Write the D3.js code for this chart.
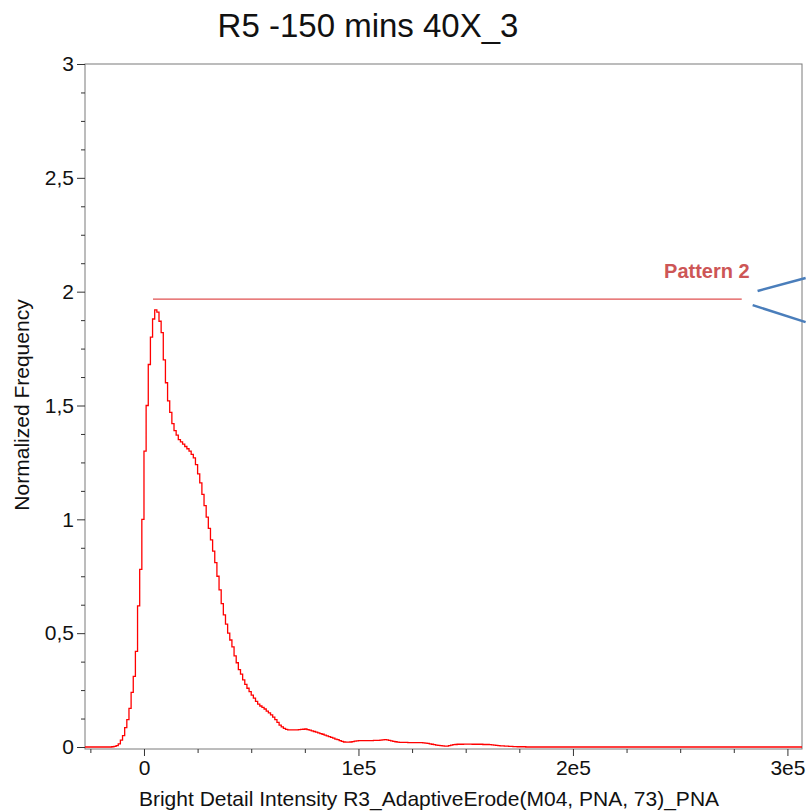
<!DOCTYPE html>
<html>
<head>
<meta charset="utf-8">
<script src="https://cdn.jsdelivr.net/npm/d3@7"></script>
<style>
  body { margin: 0; background: #fff; }
  text { font-family: "Liberation Sans", Arial, sans-serif; }
</style>
</head>
<body>
<svg id="chart" width="806" height="811"></svg>
<script>
// histogram bins (bin start = binStart + i * binWidth)
const binStart = -20000;
const binWidth = 1000;
const freq = [
  0, 0, 0, 0, 0, 0.001, 0.003, 0.006, 0.014, 0.03,
  0.05, 0.085, 0.12, 0.17, 0.24, 0.31, 0.42, 0.62, 0.78, 1.0,
  1.30, 1.50, 1.68, 1.80, 1.88, 1.92, 1.91, 1.87, 1.82, 1.70,
  1.60, 1.52, 1.47, 1.42, 1.39, 1.37, 1.35, 1.34, 1.33, 1.32,
  1.31, 1.30, 1.285, 1.27, 1.24, 1.20, 1.16, 1.11, 1.06, 1.01,
  0.96, 0.91, 0.86, 0.81, 0.75, 0.69, 0.63, 0.58, 0.54, 0.50,
  0.47, 0.44, 0.40, 0.37, 0.34, 0.32, 0.295, 0.275, 0.258, 0.243,
  0.228, 0.215, 0.200, 0.188, 0.180, 0.174, 0.167, 0.158, 0.150, 0.141,
  0.131, 0.120, 0.108, 0.096, 0.088, 0.082, 0.077, 0.075, 0.075, 0.075,
  0.075, 0.075, 0.076, 0.077, 0.078, 0.079, 0.076, 0.074, 0.071, 0.068,
  0.065, 0.062, 0.059, 0.056, 0.052, 0.049, 0.046, 0.042, 0.039, 0.035,
  0.032, 0.028, 0.025, 0.022, 0.021, 0.021, 0.022, 0.024, 0.026, 0.027,
  0.028, 0.028, 0.028, 0.028, 0.028, 0.028, 0.028, 0.029, 0.029, 0.029,
  0.030, 0.031, 0.032, 0.031, 0.029, 0.027, 0.025, 0.023, 0.021, 0.020,
  0.020, 0.020, 0.020, 0.019, 0.019, 0.019, 0.019, 0.019, 0.019, 0.019,
  0.018, 0.017, 0.016, 0.014, 0.012, 0.010, 0.008, 0.007, 0.006, 0.005,
  0.004, 0.004, 0.006, 0.008, 0.010, 0.011, 0.012, 0.012, 0.012, 0.013,
  0.013, 0.013, 0.013, 0.012, 0.012, 0.012, 0.012, 0.012, 0.011, 0.011,
  0.011, 0.010, 0.009, 0.008, 0.007, 0.006, 0.005, 0.005, 0.004, 0.004,
  0.003, 0.003, 0.002, 0.002, 0.001, 0.001, 0.001, 0.001, 0, 0
];

const xDomain = [-27500, 306800];
const yDomain = [0, 3];
const xTicks = [0, 1e5, 2e5, 3e5];
const yTicks = [0, 0.5, 1, 1.5, 2, 2.5, 3];

// "Pattern 2" marker: a level line and two pointer strokes
const patternLevel = 1.967;
const patternRange = [4200, 278700];
const patternLabel = { text: "Pattern 2", x: 282400, y: 2.06 };
const pointers = [
  [[286100, 2.003], [308500, 2.06]],
  [[283800, 1.941], [308500, 1.866]]
];

const svg = d3.select("#chart");
const width = 806, height = 811;
const margin = { top: 64, right: 4, bottom: 64, left: 85 };

svg.append("rect").attr("width", width).attr("height", height).attr("fill", "#fff");

const x = d3.scaleLinear().domain(xDomain).range([margin.left, width - margin.right]);
const y = d3.scaleLinear().domain(yDomain).range([height - margin.bottom, margin.top]);
const axisY = height - margin.bottom + 2;

// frame
svg.append("rect")
  .attr("x", margin.left)
  .attr("y", margin.top)
  .attr("width", width - margin.right - margin.left)
  .attr("height", axisY - margin.top)
  .attr("fill", "none")
  .attr("stroke", "#7a7a7a")
  .attr("stroke-width", 1);

// left axis
const fmtY = d => String(d).replace(".", ",");
const yAxis = svg.append("g")
  .attr("transform", `translate(${margin.left},0)`)
  .call(d3.axisLeft(y).tickValues(yTicks).tickFormat(fmtY).tickSize(8).tickPadding(3));
yAxis.select(".domain").remove();
yAxis.selectAll("line").attr("stroke", "#333");
yAxis.selectAll("text").style("font-size", "21px").attr("fill", "#111").attr("font-family", null);

svg.append("g")
  .attr("transform", `translate(${margin.left},0)`)
  .call(d3.axisLeft(y).tickValues(d3.range(0, 3.001, 0.125).filter(v => v % 0.5 !== 0)).tickSize(4).tickFormat(""))
  .call(g => g.select(".domain").remove())
  .selectAll("line").attr("stroke", "#333");

// bottom axis
const fmtX = d => d === 0 ? "0" : (d / 1e5) + "e5";
const xAxis = svg.append("g")
  .attr("transform", `translate(0,${axisY})`)
  .call(d3.axisBottom(x).tickValues(xTicks).tickFormat(fmtX).tickSize(7).tickPadding(4));
xAxis.select(".domain").remove();
xAxis.selectAll("line").attr("stroke", "#333");
xAxis.selectAll("text").style("font-size", "21px").attr("fill", "#111").attr("font-family", null);

svg.append("g")
  .attr("transform", `translate(0,${axisY})`)
  .call(d3.axisBottom(x).tickValues(d3.range(-25000, xDomain[1], 25000).filter(v => v % 1e5 !== 0)).tickSize(4).tickFormat(""))
  .call(g => g.select(".domain").remove())
  .selectAll("line").attr("stroke", "#333");

// histogram step line
const pts = [[xDomain[0], 0]];
freq.forEach((v, i) => pts.push([binStart + i * binWidth, v]));
pts.push([binStart + freq.length * binWidth, 0]);
pts.push([xDomain[1], 0]);

const line = d3.line()
  .x(d => x(d[0]))
  .y(d => y(d[1]))
  .curve(d3.curveStepAfter);

svg.append("path")
  .datum(pts)
  .attr("d", line)
  .attr("fill", "none")
  .attr("stroke", "#ff0000")
  .attr("stroke-width", 1.3);

// pattern annotation
svg.append("line")
  .attr("x1", x(patternRange[0])).attr("x2", x(patternRange[1]))
  .attr("y1", y(patternLevel)).attr("y2", y(patternLevel))
  .attr("stroke", "#e05050").attr("stroke-width", 1.2);

svg.append("text")
  .attr("x", x(patternLabel.x))
  .attr("y", y(patternLabel.y))
  .attr("text-anchor", "end")
  .attr("fill", "#cd5656")
  .style("font-size", "20px")
  .style("font-weight", "bold")
  .text(patternLabel.text);

svg.selectAll(".pointer")
  .data(pointers)
  .join("line")
  .attr("class", "pointer")
  .attr("x1", d => x(d[0][0])).attr("y1", d => y(d[0][1]))
  .attr("x2", d => x(d[1][0])).attr("y2", d => y(d[1][1]))
  .attr("stroke", "#4a7ebb")
  .attr("stroke-width", 2.5);

// titles
svg.append("text")
  .attr("x", 368)
  .attr("y", 37)
  .attr("text-anchor", "middle")
  .style("font-size", "33px")
  .attr("fill", "#111")
  .text("R5 -150 mins 40X_3");

svg.append("text")
  .attr("x", 429)
  .attr("y", 806)
  .attr("text-anchor", "middle")
  .style("font-size", "21px")
  .attr("fill", "#111")
  .text("Bright Detail Intensity R3_AdaptiveErode(M04, PNA, 73)_PNA");

svg.append("text")
  .attr("transform", "translate(29,405) rotate(-90)")
  .attr("text-anchor", "middle")
  .style("font-size", "21px")
  .attr("fill", "#111")
  .text("Normalized Frequency");
</script>
</body>
</html>
